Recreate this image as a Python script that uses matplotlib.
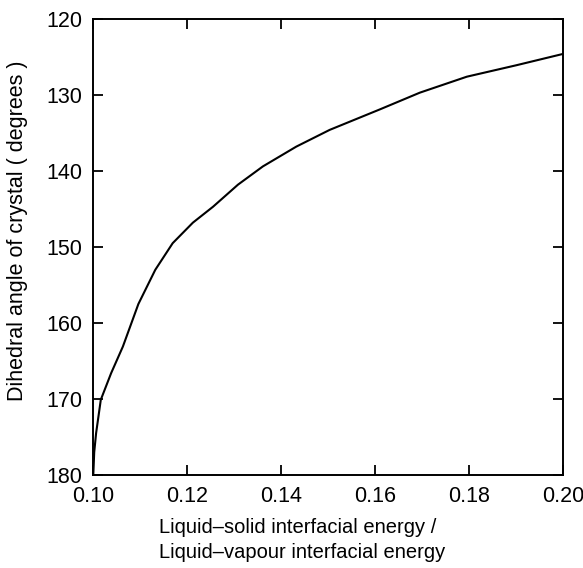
import numpy as np
import matplotlib.pyplot as plt

plt.rcParams['font.family'] = ['Liberation Sans', 'DejaVu Sans']

# ratio of interfacial energies (liquid-solid / liquid-vapour) and dihedral angle
energy_ratio = [0.1000, 0.1002, 0.1006, 0.1016, 0.1038, 0.1063, 0.1096, 0.1132,
                0.1169, 0.1212, 0.1255, 0.1308, 0.1361, 0.1432, 0.1503, 0.1610,
                0.1695, 0.1795, 0.1900, 0.2000]
dihedral_angle = [180.0, 177.0, 174.5, 170.1, 166.6, 163.1, 157.5, 153.0,
                  149.5, 146.8, 144.7, 141.8, 139.4, 136.8, 134.6, 131.9,
                  129.7, 127.6, 126.1, 124.6]

x_ticks = [0.10, 0.12, 0.14, 0.16, 0.18, 0.20]
y_ticks = [120, 130, 140, 150, 160, 170, 180]

fig = plt.figure(figsize=(5.83, 5.68), dpi=100)
ax = fig.add_axes([0.160, 0.1637, 0.806, 0.803])

ax.plot(energy_ratio, dihedral_angle, color='black', lw=1.5)

ax.set_xlim(0.10, 0.20)
ax.set_ylim(180, 120)
ax.set_xticks(x_ticks)
ax.set_xticklabels(['%.2f' % t for t in x_ticks])
ax.set_yticks(y_ticks)
ax.tick_params(direction='in', length=7, width=1.3, top=True, right=True,
               labelsize=15.5)
ax.tick_params(axis='y', pad=8)
ax.tick_params(axis='x', pad=8)
for s in ax.spines.values():
    s.set_linewidth(1.4)

ax.set_ylabel('Dihedral angle of crystal ( degrees )', fontsize=15.5)
ax.yaxis.set_label_coords(-0.139, 0.535)

fig.text(159 / 583, 1 - 533 / 568, 'Liquid\u2013solid interfacial energy /',
         fontsize=14.5, ha='left', va='baseline')
fig.text(159 / 583, 1 - 558 / 568, 'Liquid\u2013vapour interfacial energy',
         fontsize=14.5, ha='left', va='baseline')

fig.savefig('out.png', dpi=100)
